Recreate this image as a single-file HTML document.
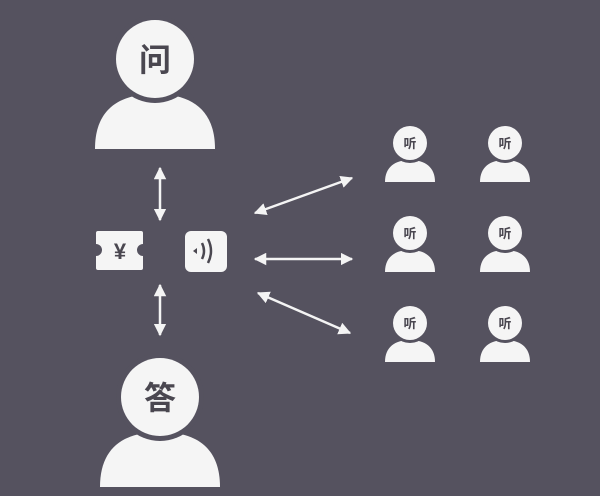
<!DOCTYPE html>
<html><head><meta charset="utf-8"><style>
html,body{margin:0;padding:0;background:#55525f;}
svg{display:block}
text{font-family:"Liberation Sans","Noto Sans CJK SC",sans-serif;font-weight:bold;fill:#4a4750;text-anchor:middle}
</style></head><body>
<svg width="600" height="496" viewBox="0 0 600 496">
<defs>
<marker id="a" viewBox="0 0 10 10" refX="9" refY="5" markerWidth="5" markerHeight="5" orient="auto-start-reverse"><path d="M0,0L10,5L0,10z" fill="#f4f4f4"/></marker>
<g id="big">
<path d="M-60,90 C-60,52 -38,35 0,35 C38,35 60,52 60,90 Z" fill="#f5f5f5"/>
<circle cx="0" cy="0" r="44" fill="#55525f"/>
<circle cx="0" cy="0" r="39" fill="#f5f5f5"/>
</g>
<g id="sm">
<path d="M-25,39 C-25,24 -15,17 0,17 C15,17 25,24 25,39 Z" fill="#f5f5f5"/>
<circle cx="0" cy="0" r="20" fill="#55525f"/>
<circle cx="0" cy="0" r="17" fill="#f5f5f5"/>
</g>
</defs>
<rect width="600" height="496" fill="#55525f"/>
<use href="#big" x="155" y="59"/>
<text x="155" y="71" font-size="32">问</text>
<use href="#big" x="160" y="397"/>
<text x="160" y="409" font-size="32">答</text>
<g>
<use href="#sm" x="410" y="143"/><text x="410" y="148" font-size="13">听</text>
<use href="#sm" x="505" y="143"/><text x="505" y="148" font-size="13">听</text>
<use href="#sm" x="410" y="233"/><text x="410" y="238" font-size="13">听</text>
<use href="#sm" x="505" y="233"/><text x="505" y="238" font-size="13">听</text>
<use href="#sm" x="410" y="323"/><text x="410" y="328" font-size="13">听</text>
<use href="#sm" x="505" y="323"/><text x="505" y="328" font-size="13">听</text>
</g>
<g stroke="#f4f4f4" stroke-width="2.5" marker-start="url(#a)" marker-end="url(#a)">
<line x1="160" y1="168" x2="160" y2="220"/>
<line x1="160" y1="285" x2="160" y2="335"/>
<line x1="255" y1="213" x2="352" y2="178"/>
<line x1="255" y1="259" x2="352" y2="259"/>
<line x1="258" y1="293" x2="350" y2="333"/>
</g>
<path d="M98,231 H141 a2,2 0 0 1 2,2 V244 a6,6 0 0 0 0,12 V268 a2,2 0 0 1 -2,2 H98 a2,2 0 0 1 -2,-2 V256 a6,6 0 0 0 0,-12 V233 a2,2 0 0 1 2,-2 Z" fill="#f5f5f5"/>
<text x="120" y="259" font-size="22">¥</text>
<rect x="185" y="231" width="42" height="41" rx="6" fill="#f5f5f5"/>
<path d="M193,251 l4,-3 v6 z" fill="#4a4750"/>
<path d="M202,243 q4,8 0,16" stroke="#4a4750" stroke-width="2.5" fill="none"/>
<path d="M208,239 q6,12 0,24" stroke="#4a4750" stroke-width="2.5" fill="none"/>
</svg>
</body></html>
